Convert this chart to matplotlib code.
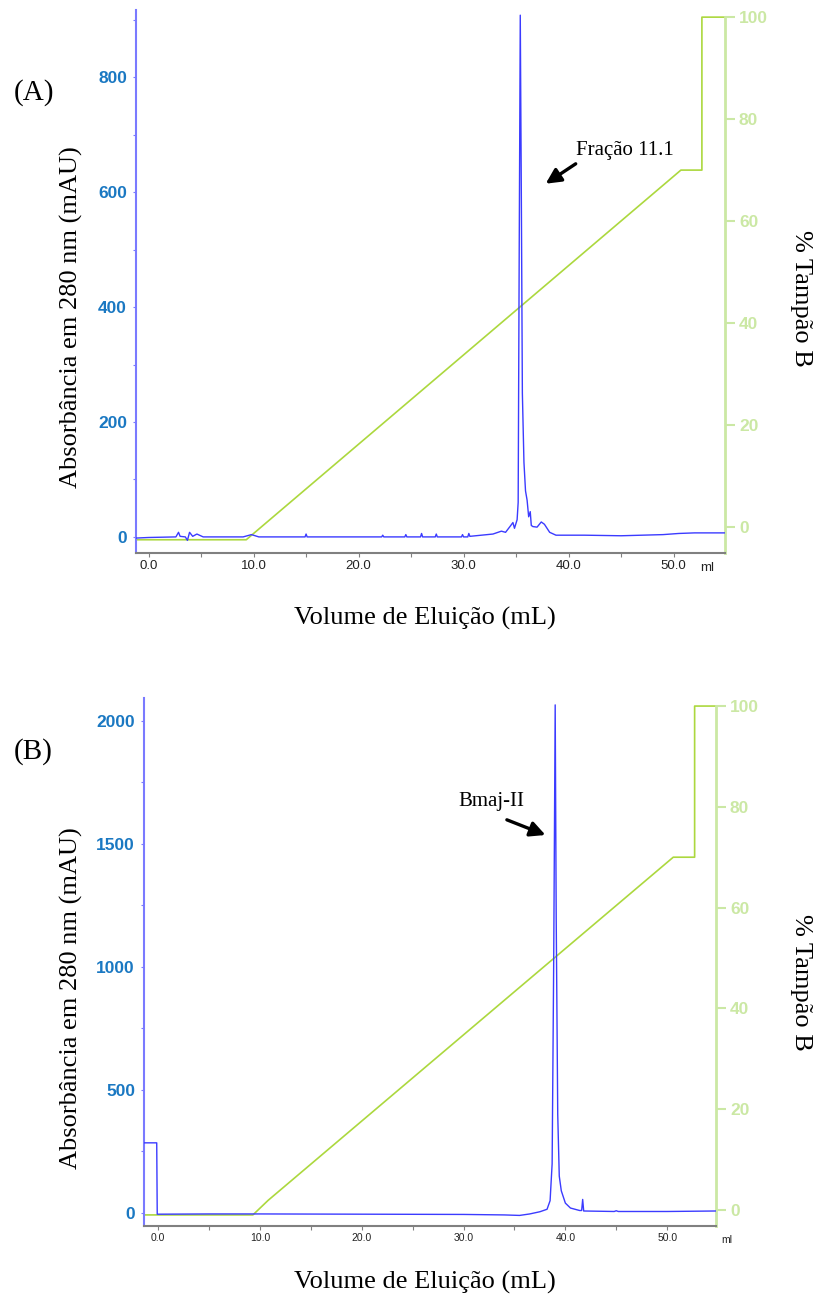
import matplotlib
matplotlib.use("Agg")
import matplotlib.pyplot as plt
from matplotlib.ticker import MultipleLocator, FixedLocator
import numpy as np

# --- data ---
# (A) absorbance trace
vol_a = [-1.2, 0.0, 2.6, 2.85, 3.0, 3.5, 3.7, 3.9, 4.2, 4.6, 5.2, 9.0, 9.8, 10.5, 14.9, 15.0, 15.1,
         22.2, 22.3, 22.4, 24.4, 24.5, 24.6, 25.9, 26.0, 26.1, 27.3, 27.4, 27.5, 29.8, 29.9, 30.0,
         30.4, 30.5, 30.6, 32.8, 33.6, 34.0, 34.5, 34.7, 34.85, 35.1, 35.2, 35.3, 35.4, 35.5, 35.6,
         35.75, 35.9, 36.05, 36.2, 36.35, 36.45, 36.6, 37.0, 37.4, 37.7, 38.2, 38.8, 41.5, 45.0,
         49.0, 50.5, 52.0, 54.9]
abs_a = [-2, -1, 0, 8, 1, 0, -6, 8, 1, 5, 0, 0, 4, 0, 0, 5, 0,
         0, 3, 0, 0, 4, 0, 0, 6, 0, 0, 5, 0, 0, 4, 0,
         0, 6, 1, 5, 10, 8, 20, 25, 15, 30, 60, 500, 908, 600, 250,
         130, 80, 64, 35, 44, 20, 18, 17, 26, 22, 8, 3, 3, 2,
         4, 6, 7, 7]
# (A) % buffer B gradient
vol_grad_a = [-1.2, 9.3, 50.7, 52.7, 52.7, 54.9]
pct_b_a = [-2.5, -2.5, 70, 70, 100, 100]

# (B) absorbance trace
vol_b = [-1.4, -0.15, -0.1, 5.0, 10.0, 20.0, 30.0, 34.0, 35.5, 36.5, 37.5, 38.2, 38.5, 38.7,
         38.85, 39.0, 39.1, 39.25, 39.4, 39.6, 40.0, 40.5, 41.4, 41.6, 41.7, 41.8, 44.8, 45.0,
         45.2, 50.0, 54.8]
abs_b = [285, 285, -5, -4, -4, -5, -6, -8, -10, -4, 5, 15, 50, 200,
         1000, 2065, 1200, 400, 150, 90, 40, 20, 10, 10, 55, 8, 6, 9,
         6, 6, 8]
# (B) % buffer B gradient
vol_grad_b = [-1.4, 9.3, 10.8, 50.6, 52.7, 52.7, 54.8]
pct_b_b = [-1, -1, 1.9, 70, 70, 100, 100]

x_ticks = [0, 10, 20, 30, 40, 50]
x_tick_labels = ["0.0", "10.0", "20.0", "30.0", "40.0", "50.0"]

BLUE_LINE = "#3b3bff"
BLUE_SPINE = "#7a7aff"
BLUE_TXT = "#1a78c2"
GREEN_LINE = "#acd83e"
GREEN_AX = "#cbe8a4"
GREY = "#808080"

W, H = 819, 1298
fig = plt.figure(figsize=(W / 100, H / 100), dpi=100)


def fx(px):
    return px / W


def fy(py):
    return 1 - py / H


def panel(rect, vol, absb, vg, pb, xlim, ylim, ylim2, ymaj, ymin, xfs, ml_x,
          ann_text, ann_xy, ann_tail, ann_txt_xy):
    ax = fig.add_axes(rect)
    ax.plot(vol, absb, color=BLUE_LINE, lw=1.0, zorder=3)
    ax.set_xlim(*xlim)
    ax.set_ylim(*ylim)
    ax2 = ax.twinx()
    ax2.plot(vg, pb, color=GREEN_LINE, lw=1.2, zorder=2)
    ax2.set_ylim(*ylim2)
    ax.set_zorder(ax2.get_zorder() + 1)
    ax.patch.set_visible(False)

    for a in (ax, ax2):
        a.spines["top"].set_visible(False)
    ax.spines["right"].set_visible(False)
    ax.spines["left"].set_color(BLUE_SPINE)
    ax.spines["left"].set_linewidth(1.5)
    ax.spines["bottom"].set_color(GREY)
    ax.spines["bottom"].set_linewidth(1.5)
    ax2.spines["left"].set_visible(False)
    ax2.spines["bottom"].set_visible(False)
    ax2.spines["right"].set_color(GREEN_AX)
    ax2.spines["right"].set_linewidth(2)
    ax2.spines["right"].set_bounds(ylim2[0], 100)

    ax.set_xticks(x_ticks)
    ax.set_xticklabels(x_tick_labels, fontsize=xfs, color="#222222", family="Liberation Sans")
    ax.xaxis.set_minor_locator(FixedLocator([5, 15, 25, 35, 45]))
    ax.tick_params(axis="x", which="both", color=GREY, length=3, width=0.8, pad=2)

    ax.yaxis.set_major_locator(MultipleLocator(ymaj))
    ax.yaxis.set_minor_locator(MultipleLocator(ymin))
    ax.tick_params(axis="y", which="both", color=BLUE_SPINE, length=2.5, width=0.8, pad=4,
                   labelcolor=BLUE_TXT, labelsize=12.5)
    for t in ax.get_yticklabels():
        t.set_fontweight("bold")
        t.set_family("Liberation Sans")

    ax2.set_yticks([0, 20, 40, 60, 80, 100])
    ax2.tick_params(axis="y", color=GREEN_AX, length=7, width=1.5, pad=3,
                    labelcolor=GREEN_AX, labelsize=12.5)
    for t in ax2.get_yticklabels():
        t.set_fontweight("bold")
        t.set_family("Liberation Sans")

    ax.text(ml_x, -0.017, "ml", transform=ax.transAxes, ha="left",
            va="top", fontsize=xfs, color="#222222", family="Liberation Sans")

    ax.annotate("", xy=ann_xy, xytext=ann_tail,
                arrowprops=dict(arrowstyle="-|>,head_length=0.9,head_width=0.45", lw=2.4, color="black"),
                zorder=5)
    ax.text(ann_txt_xy[0], ann_txt_xy[1], ann_text, ha="left", va="center", fontsize=15,
            family="Liberation Serif", color="black")
    return ax, ax2


# panel A
panel([fx(136), fy(553), fx(589), 543 / H], vol_a, abs_a, vol_grad_a, pct_b_a,
      (-1.2, 54.9), (-28, 917), (-5.1, 101.4), 200, 100, 9.5, (700 - 136) / 589,
      "Fração 11.1", (37.6, 612), (40.9, 652), (40.7, 673))

# panel B
panel([fx(144), fy(1226), fx(572), 528 / H], vol_b, abs_b, vol_grad_b, pct_b_b,
      (-1.4, 54.8), (-53, 2093), (-3.2, 101.6), 500, 250, 7.5, 1.01,
      "Bmaj-II", (38.3, 1532), (34.0, 1602), (29.5, 1671))

serif = dict(family="Liberation Serif", color="black")
for yc in (317, 998):
    fig.text(fx(71), fy(yc), "Absorbância em 280 nm (mAU)", rotation=90, ha="center", va="center",
             fontsize=19, **serif)
for yc in (298, 982):
    fig.text(fx(801), fy(yc), "% Tampão B", rotation=-90, ha="center", va="center", fontsize=19, **serif)
fig.text(fx(425), fy(618), "Volume de Eluição (mL)", ha="center", va="center", fontsize=19, **serif)
fig.text(fx(425), fy(1282), "Volume de Eluição (mL)", ha="center", va="center", fontsize=19, **serif)
fig.text(fx(14), fy(93), "(A)", ha="left", va="center", fontsize=21, **serif)
fig.text(fx(14), fy(752), "(B)", ha="left", va="center", fontsize=21, **serif)

fig.savefig("out.png", dpi=100)
